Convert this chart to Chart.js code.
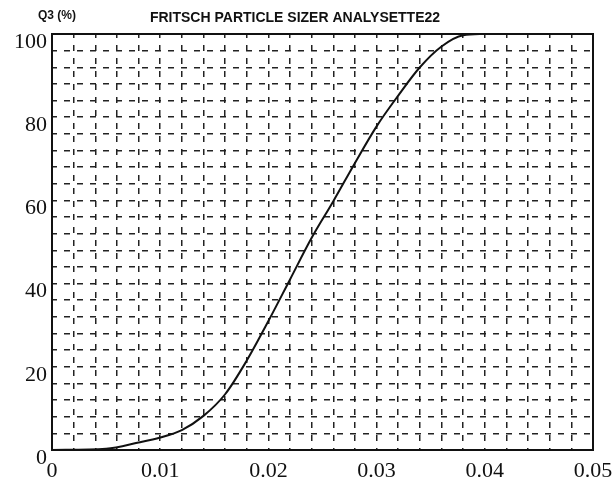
<!DOCTYPE html>
<html>
<head>
<meta charset="utf-8">
<script src="https://cdn.jsdelivr.net/npm/chart.js@4.4.1/dist/chart.umd.min.js"></script>
<style>
html,body{margin:0;padding:0;background:#fff;}
#wrap{width:615px;height:485px;position:relative;}
</style>
</head>
<body>
<div id="wrap"><canvas id="c" width="615" height="485"></canvas></div>
<script>
// Data
const sizeX = [0, 0.005, 0.008, 0.010, 0.012, 0.014, 0.016, 0.018, 0.020, 0.022, 0.024, 0.026, 0.028, 0.030, 0.032, 0.034, 0.036, 0.038, 0.040];
const q3Values = [0, 0.3, 1.8, 3.0, 4.8, 8.2, 13.4, 21.5, 31.0, 41.0, 51.0, 59.8, 69.0, 77.8, 85.2, 92.0, 97.0, 99.7, 100];
const xTickLabels = [0, 0.01, 0.02, 0.03, 0.04, 0.05];
const yTickLabels = [0, 20, 40, 60, 80, 100];
const titleText = "FRITSCH PARTICLE SIZER ANALYSETTE22";
const yAxisTitle = "Q3 (%)";

const points = sizeX.map((x, i) => ({x: x, y: q3Values[i]}));
const near = (v, list) => list.find(t => Math.abs(t - v) < 1e-9);

const textPlugin = {
  id: 'texts',
  afterDraw(chart) {
    const ctx = chart.ctx;
    const a = chart.chartArea;
    ctx.save();
    ctx.strokeStyle = '#111';
    ctx.lineWidth = 2;
    ctx.strokeRect(a.left, a.top, a.right - a.left, a.bottom - a.top);
    ctx.fillStyle = '#111';
    ctx.textBaseline = 'middle';
    ctx.font = 'bold 12px "Liberation Sans", Arial, sans-serif';
    ctx.textAlign = 'left';
    ctx.fillText(yAxisTitle, 38, 16, 47);
    ctx.textAlign = 'center';
    ctx.font = 'bold 14px "Liberation Sans", Arial, sans-serif';
    ctx.fillText(titleText, 295, 18, 304);
    ctx.restore();
  }
};

new Chart(document.getElementById('c'), {
  type: 'line',
  data: {
    datasets: [{
      data: points,
      borderColor: '#111',
      borderWidth: 2,
      pointRadius: 0,
      fill: false,
      cubicInterpolationMode: 'monotone'
    }]
  },
  options: {
    responsive: false,
    animation: false,
    layout: {padding: {top: 34, right: 22, bottom: 0, left: 0}},
    plugins: {legend: {display: false}, tooltip: {enabled: false}, title: {display: false}},
    scales: {
      x: {
        type: 'linear',
        min: 0, max: 0.05,
        afterFit(s) { s.height = 35; },
        afterBuildTicks(s) {
          const t = [];
          for (let i = 0; i <= 25; i++) t.push({value: +(i * 0.002).toFixed(4)});
          s.ticks = t;
        },
        ticks: {
          autoSkip: false,
          maxRotation: 0,
          padding: 0,
          color: '#111',
          font: {family: '"Liberation Serif", "Times New Roman", serif', size: 22},
          callback: (v) => { const m = near(v, xTickLabels); return m === undefined ? '' : String(m); }
        },
        grid: {color: '#222', lineWidth: 1.5, drawTicks: true, tickLength: 8, tickColor: 'rgba(0,0,0,0)'},
        border: {display: true, color: '#111', width: 2, dash: [6, 7], dashOffset: 2}
      },
      y: {
        type: 'linear',
        min: 0, max: 100,
        afterFit(s) { s.width = 52; },
        afterBuildTicks(s) {
          const t = [];
          for (let i = 0; i <= 25; i++) t.push({value: i * 4});
          s.ticks = t;
        },
        ticks: {
          autoSkip: false,
          padding: 5,
          labelOffset: 8,
          color: '#111',
          font: {family: '"Liberation Serif", "Times New Roman", serif', size: 22},
          callback: (v) => { const m = near(v, yTickLabels); return m === undefined ? '' : String(m); }
        },
        grid: {color: '#222', lineWidth: 1.5, tickLength: 0, drawTicks: false},
        border: {display: true, color: '#111', width: 2, dash: [6, 7], dashOffset: 2}
      }
    }
  },
  plugins: [textPlugin]
});
</script>
</body>
</html>
